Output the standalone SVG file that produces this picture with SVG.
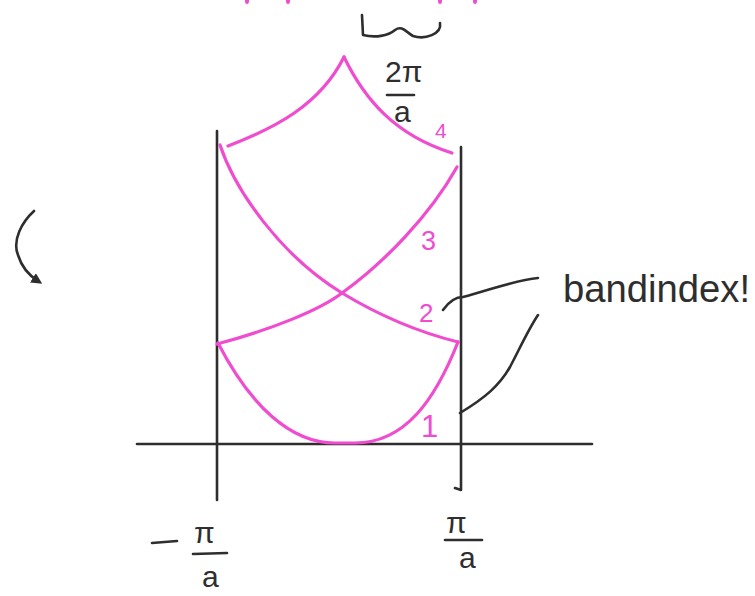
<svg xmlns="http://www.w3.org/2000/svg" width="755" height="596" viewBox="0 0 755 596">
<style>
.ink{fill:none;stroke:#2e2e2e;stroke-width:2.6;stroke-linecap:round;stroke-linejoin:round}
.band{fill:none;stroke:#f04ccf;stroke-width:3.2;stroke-linecap:round;stroke-linejoin:round}
.lbl{font-family:"Liberation Sans",Arial,sans-serif;fill:#f04ccf}
.txt{font-family:"Liberation Sans",Arial,sans-serif;fill:#2e2e2e}
</style>
<defs>
<marker id="ah" markerWidth="11" markerHeight="11" refX="6" refY="5.5" orient="auto" markerUnits="userSpaceOnUse">
<path d="M0,0 L11,5.5 L0,11 Z" fill="#2e2e2e"/>
</marker>
</defs>
<rect width="755" height="596" fill="#ffffff"/>
<g id="top-marks" fill="#f04ccf">
<ellipse cx="247" cy="1" rx="2" ry="3"/>
<ellipse cx="288" cy="1" rx="2" ry="3"/>
<ellipse cx="440" cy="1" rx="2" ry="3"/>
<ellipse cx="475" cy="1" rx="2" ry="3"/>
</g>
<g id="axes">
<path class="ink" d="M137,444 L592,444"/>
<path class="ink" d="M217,131 L217,500"/>
<path class="ink" d="M461,147 L461,490 L455,488"/>
</g>
<g id="bands">
<path class="band" d="M218,343 C250,405 290,443 335,443 L355,443 C405,443 435,400 458,342"/>
<path class="band" d="M217,344 C270,330 320,310 342,293 C385,262 430,215 457,167"/>
<path class="band" d="M220,145 C235,190 280,255 342,293 C370,310 410,330 458,342"/>
<path class="band" d="M228,146 C275,128 320,105 344,57"/>
<path class="band" d="M344,57 C365,100 395,135 452,153"/>
</g>
<g id="band-labels" class="lbl">
<text x="435" y="138" font-size="21">4</text>
<text x="421" y="250" font-size="27">3</text>
<text x="419" y="322" font-size="26">2</text>
<text x="421" y="437" font-size="31">1</text>
</g>
<g id="brace">
<path class="ink" d="M362,15 L363,35 C375,38 388,36 395,30 C402,25 406,32 413,36 C425,40 442,34 440,23"/>
</g>
<g id="label-2pi-a" class="txt">
<text x="385" y="82" font-size="30">2π</text>
<path class="ink" d="M387,95 L414,95"/>
<text x="394" y="122" font-size="30">a</text>
</g>
<g id="label-minus-pi-a" class="txt">
<path class="ink" d="M152,543 L177,541"/>
<text x="194" y="543" font-size="30">π</text>
<path class="ink" d="M193,554 L227,553"/>
<text x="202" y="587" font-size="30">a</text>
</g>
<g id="label-pi-a" class="txt">
<text x="446" y="533" font-size="30">π</text>
<path class="ink" d="M445,540 L482,540"/>
<text x="459" y="568" font-size="30">a</text>
</g>
<g id="band-index" class="txt">
<text x="563" y="302" font-size="38" textLength="187" lengthAdjust="spacingAndGlyphs">bandindex!</text>
</g>
<g id="connectors">
<path class="ink" d="M443,310 C450,300 456,297 463,297 C490,290 515,280 538,278"/>
<path class="ink" d="M460,413 C485,398 500,385 510,367 C520,348 528,330 538,315"/>
<path class="ink" d="M34,211 C22,222 12,240 18,255 C22,268 30,276 38,281" marker-end="url(#ah)"/>
</g>
</svg>
